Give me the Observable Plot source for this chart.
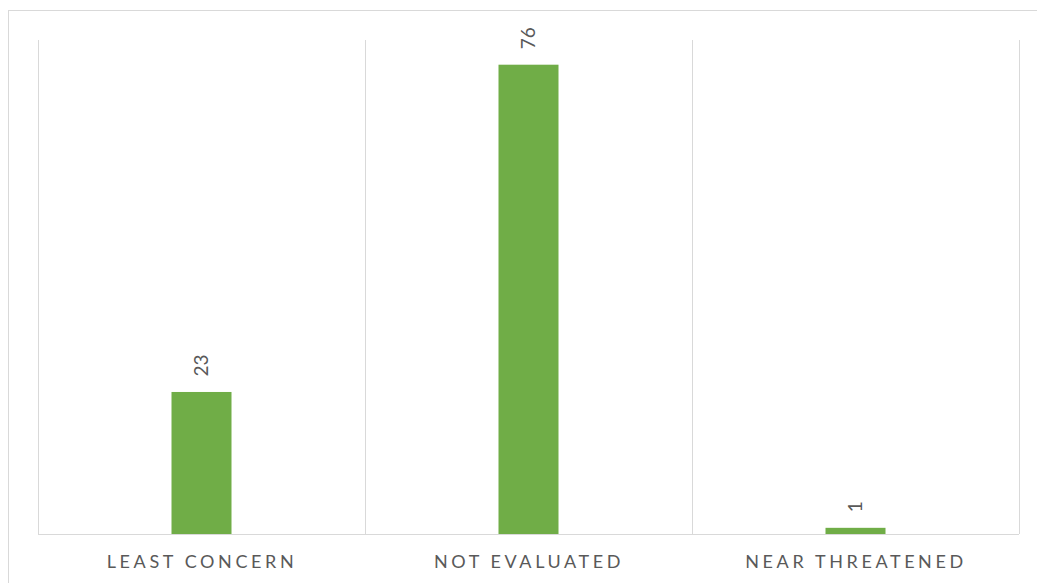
<!DOCTYPE html>
<html>
<head>
<meta charset="utf-8">
<script src="https://cdn.jsdelivr.net/npm/d3@7"></script>
<script src="https://cdn.jsdelivr.net/npm/@observablehq/plot@0.6"></script>
<style>
  html, body { margin: 0; padding: 0; background: #fff; overflow: hidden; }
  #wrap { position: relative; width: 1037px; height: 583px; }
  #frame {
    position: absolute; left: 8px; top: 10px; width: 1100px; height: 700px;
    border: 1px solid #d9d9d9; box-sizing: border-box;
  }
  #chart { position: absolute; left: 0; top: 0; }
</style>
</head>
<body>
<div id="wrap">
  <div id="frame"></div>
  <div id="chart"></div>
</div>
<script>
// Species counts by IUCN Red List status
const categories = ["LEAST CONCERN", "NOT EVALUATED", "NEAR THREATENED"];
const counts = [23, 76, 1];

const rows = categories.map((c, i) => ({ category: c, count: counts[i], index: i }));
const font = "Lato, 'Open Sans', sans-serif";
const gray = "#595959";

const chart = Plot.plot({
  width: 1037,
  height: 583,
  marginTop: 40,
  marginBottom: 49,
  marginLeft: 38,
  marginRight: 18,
  style: { fontFamily: font, background: "transparent" },
  x: { type: "linear", domain: [0, categories.length], axis: null },
  y: { domain: [0, 80], axis: null },
  marks: [
    // category separators
    Plot.ruleX(d3.range(categories.length + 1), { stroke: "#d9d9d9", strokeWidth: 1 }),
    Plot.rectY(rows, {
      x1: d => d.index,
      x2: d => d.index + 1,
      y: "count",
      fill: "#70AD47",
      insetLeft: 133.5,
      insetRight: 133.5
    }),
    Plot.ruleY([0], { stroke: "#d9d9d9", strokeWidth: 1 }),
    // value labels, rotated
    Plot.text(rows, {
      x: d => d.index + 0.5,
      y: "count",
      text: d => String(d.count),
      rotate: -90,
      textAnchor: "start",
      lineAnchor: "middle",
      dy: -16,
      fontSize: 19,
      fill: gray
    }),
    // category labels under the baseline
    Plot.text(rows, {
      x: d => d.index + 0.5,
      y: 0,
      text: "category",
      dy: 28,
      fontSize: 18,
      fill: gray,
      ariaLabel: "category"
    })
  ]
});
// widen the tracking of the category labels
d3.select(chart).selectAll("text[aria-label]")
  .style("letter-spacing", "3.6px");
document.getElementById("chart").appendChild(chart);
</script>
</body>
</html>
